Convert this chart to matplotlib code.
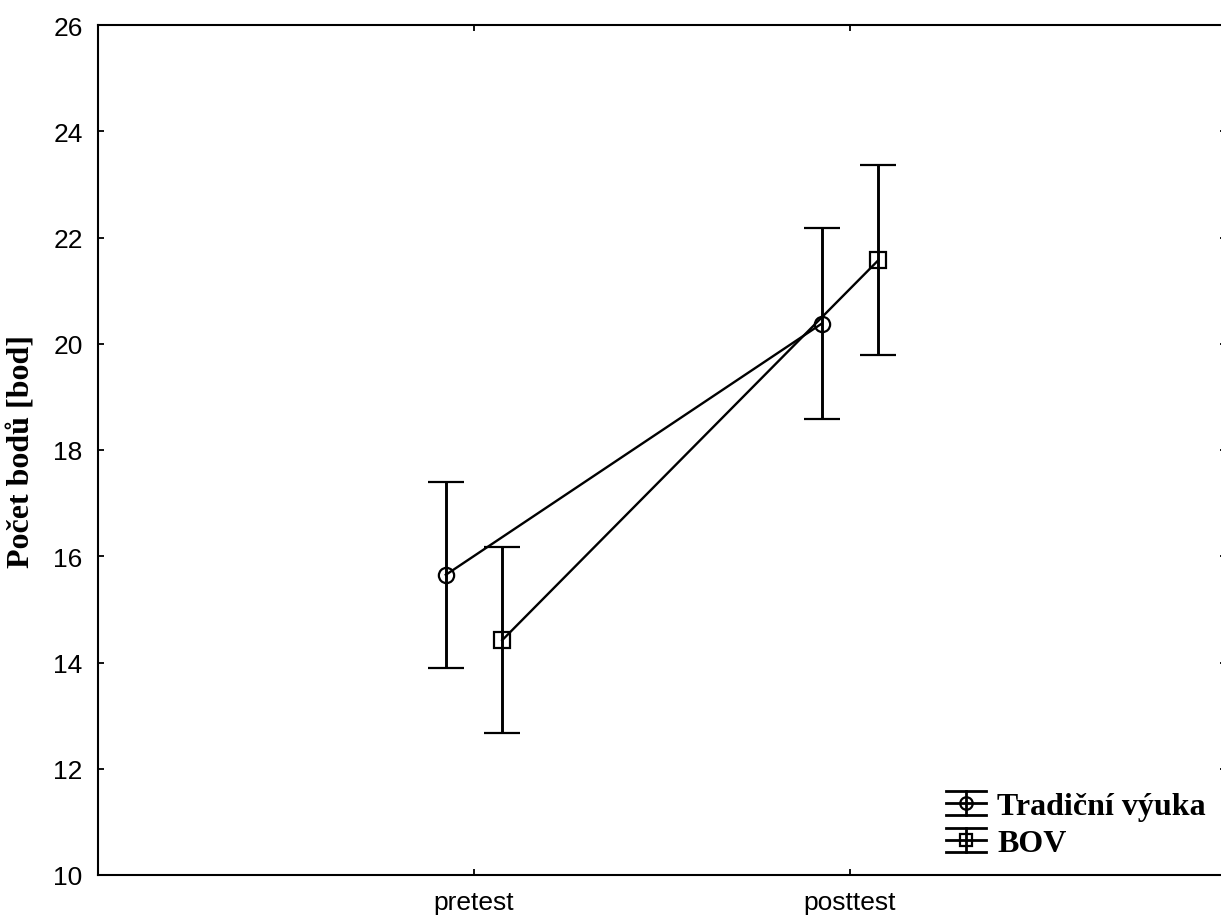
import matplotlib
matplotlib.use("Agg")
import matplotlib.pyplot as plt
from matplotlib.container import ErrorbarContainer
from matplotlib.legend_handler import HandlerBase
from matplotlib.lines import Line2D

# data
stages = ['pretest', 'posttest']
trad_mean = [15.65, 20.38]
trad_err = [1.75, 1.79]
bov_mean = [14.42, 21.57]
bov_err = [1.75, 1.79]


class ErrHandler(HandlerBase):
    # legend key drawn like the original: caps, mid line, stem and marker
    def create_artists(self, legend, orig_handle, xdescent, ydescent,
                       width, height, fontsize, trans):
        x0, x1 = -xdescent, width - xdescent
        y0, y1 = -ydescent, height - ydescent
        xm, ym = (x0 + x1) / 2, (y0 + y1) / 2
        arts = [Line2D([x0, x1], [y, y]) for y in (y0, ym, y1)]
        arts.append(Line2D([xm, xm], [y0, y1]))
        arts.append(Line2D([xm], [ym], marker=orig_handle[0].get_marker(),
                           mfc='none', ms=9, mew=1.6))
        for a in arts:
            a.set_color('k')
            a.set_linewidth(2)
            a.set_transform(trans)
        return arts


W, H = 1221, 920
fig = plt.figure(figsize=(W / 100, H / 100), dpi=100)
ax = fig.add_axes([98 / W, (H - 876) / H, (1226 - 98) / W, (876 - 26) / H])

x = [1, 2]
off = 0.075
common = dict(color='k', mfc='none', mew=1.6, lw=1.7, elinewidth=2.1,
              capsize=13, capthick=2.1)
ax.errorbar([v - off for v in x], trad_mean, yerr=trad_err, fmt='-o', ms=11,
            label='Tradiční výuka', **common)
ax.errorbar([v + off for v in x], bov_mean, yerr=bov_err, fmt='-s', ms=11,
            label='BOV', **common)

ax.set_xlim(0, 3)
ax.set_ylim(10, 26)
ax.set_xticks(x)
ax.set_xticklabels(stages)
ax.set_yticks(range(10, 27, 2))

for s in ax.spines.values():
    s.set_linewidth(1.5)
ax.tick_params(direction='in', length=4, width=1.3, top=True, right=True,
               labelsize=19, pad=11)
for lab in ax.get_xticklabels() + ax.get_yticklabels():
    lab.set_fontfamily('Liberation Sans')

ax.set_ylabel('Počet bodů [bod]', fontfamily='Liberation Serif',
              fontweight='bold', fontsize=23, labelpad=12)

ax.legend(loc='upper left', bbox_to_anchor=(946 / W, (H - 792) / H),
          bbox_transform=fig.transFigure, frameon=False, borderpad=0,
          borderaxespad=0, handlelength=1.25, handleheight=0.8,
          handletextpad=0.35, labelspacing=0.2,
          handler_map={ErrorbarContainer: ErrHandler()},
          prop={'family': 'Liberation Serif', 'weight': 'bold', 'size': 23})

fig.savefig('out.png', dpi=100)
